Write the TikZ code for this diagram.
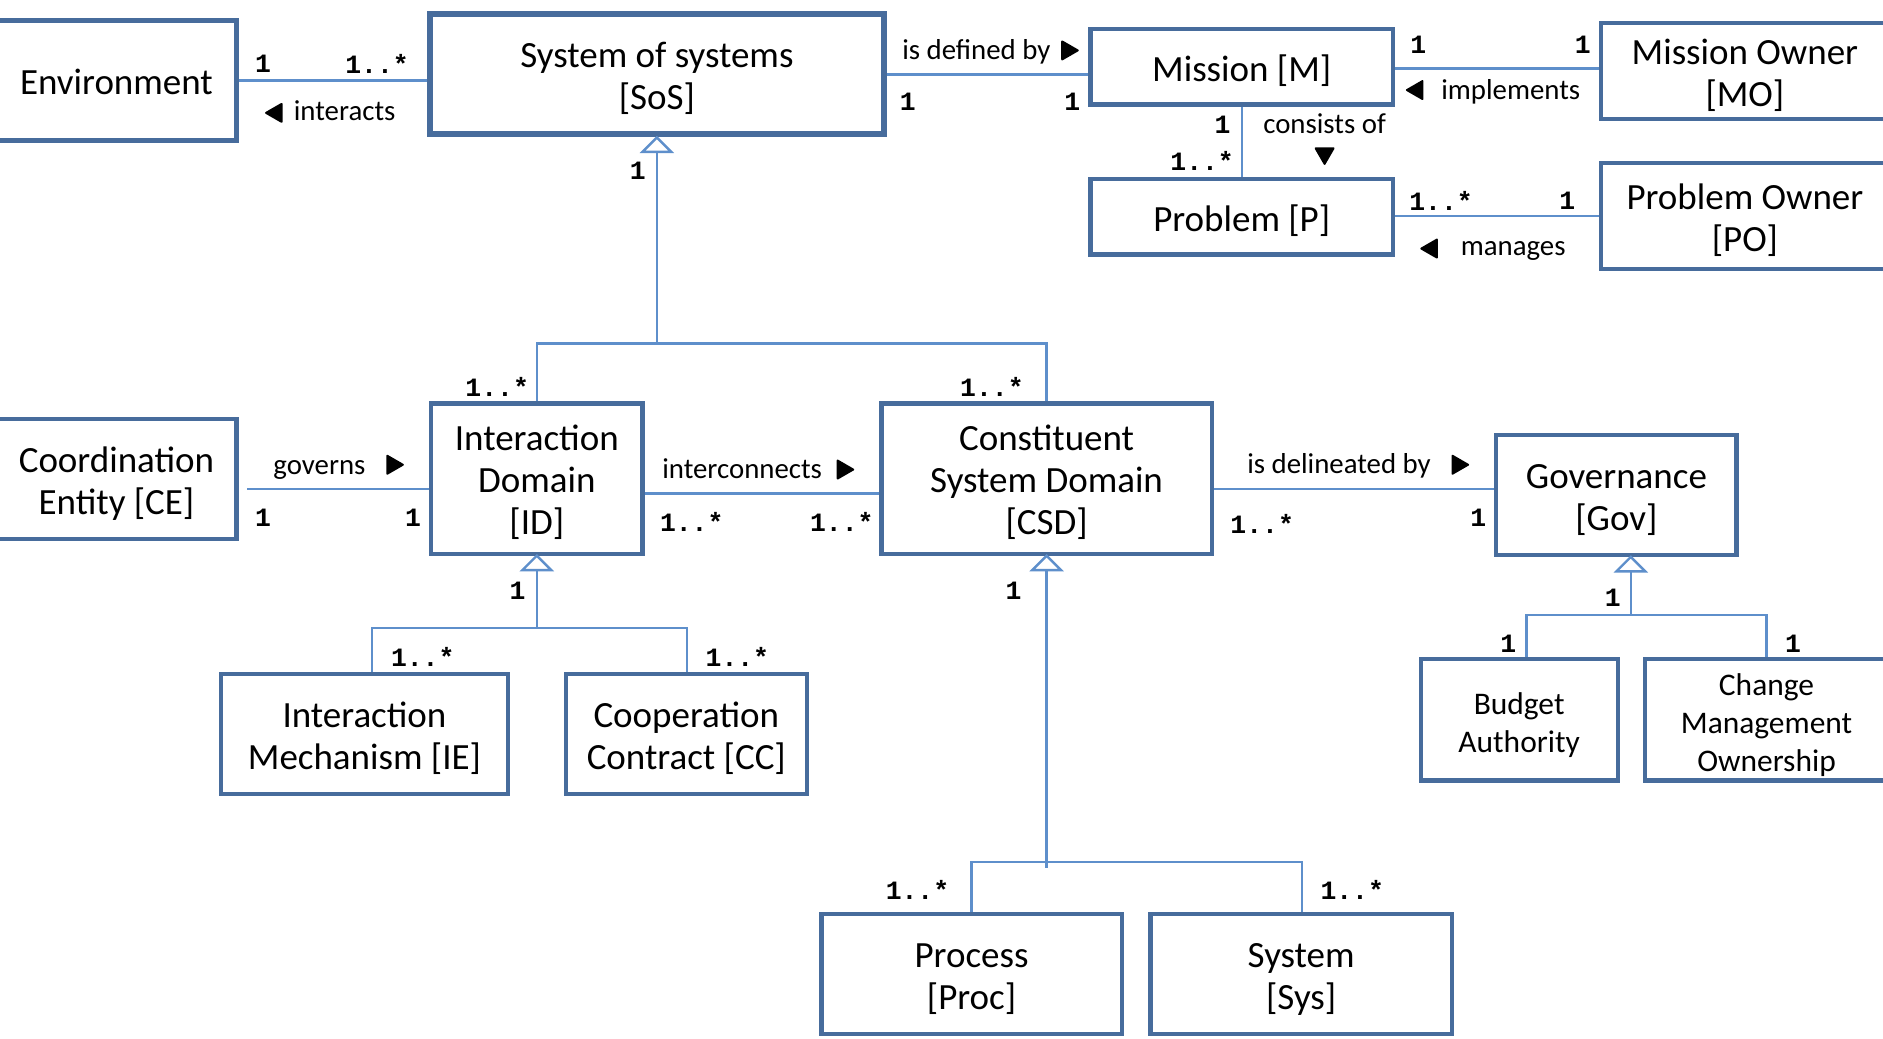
\documentclass[tikz,border=0pt]{standalone}
\usepackage{fontspec}
\setmainfont{Carlito}
\newfontfamily\multfont{Liberation Mono}
\definecolor{boxblue}{HTML}{476C9C}
\definecolor{linkblue}{HTML}{5E8FCB}
% centred class name block, set slightly below the optical centre
\newcommand\clsbox[1]{\raisebox{-2.5pt}[\height][\depth]{\begin{tabular}{@{}c@{}}#1\end{tabular}}}
\begin{document}
\begin{tikzpicture}[x=0.5pt, y=-0.5pt,
  box/.style={draw=boxblue, line width=1.75pt, fill=white, inner sep=0pt,
    font=\fontsize{15.4}{17.5}\selectfont},
  smallbox/.style={box, font=\fontsize{13.1}{15.75}\selectfont},
  sz/.style 2 args={minimum width={#1*0.5pt}, minimum height={#2*0.5pt}},
  link/.style={draw=linkblue, line width=1pt},
  gen/.style={link, fill=white},
  mult/.style={inner sep=0pt, font=\multfont\bfseries\fontsize{11}{13}\selectfont},
  rel/.style={inner sep=0pt, text height=8.5pt, text depth=0pt, font=\fontsize{12}{14}\selectfont},
  dirtri/.pic={\filldraw[line join=round, line width=0.8pt] (-5.5,-7.5) -- (7.5,0) -- (-5.5,7.5) -- cycle;},
]
\useasboundingbox (0,0) rectangle (1568,865);
\clip (0,0) rectangle (1568,865);

% ---- classes ----
\node[box, sz={200}{100}] (env) at (97,67) {\clsbox{Environment}};
\node[box, line width=2.5pt, sz={378}{100}] (sos) at (547,62) {\clsbox{System of systems\\{}[SoS]}};
\node[box, sz={252}{63}] (mis) at (1034,55.5) {\clsbox{Mission [M]}};
\node[box, sz={240}{80}] (mo) at (1453,59) {\clsbox{Mission Owner\\{}[MO]}};
\node[box, sz={252}{63}] (prob) at (1034,180.5) {\clsbox{Problem [P]}};
\node[box, sz={240}{88}] (po) at (1453,180) {\clsbox{Problem Owner\\{}[PO]}};
\node[box, sz={200}{100}] (ce) at (97,399) {\clsbox{Coordination\\Entity [CE]}};
\node[box, sz={176}{125}] (id) at (447,398.5) {\clsbox{Interaction\\Domain\\{}[ID]}};
\node[box, sz={275}{125}] (csd) at (871.5,398.5) {\clsbox{Constituent\\System Domain\\{}[CSD]}};
\node[box, sz={200}{100}] (gov) at (1346,412) {\clsbox{Governance\\{}[Gov]}};
\node[box, sz={239}{100}] (ie) at (303.5,611) {\clsbox{Interaction\\Mechanism [IE]}};
\node[box, sz={201}{100}] (cc) at (571.5,611) {\clsbox{Cooperation\\Contract [CC]}};
\node[smallbox, sz={164}{101}] (ba) at (1265,599.5) {\clsbox{Budget\\Authority}};
\node[smallbox, sz={202}{101}] (cmo) at (1471,599.5) {\clsbox{Change\\Management\\Ownership}};
\node[box, sz={250}{100}] (proc) at (809,811) {\clsbox{Process\\{}[Proc]}};
\node[box, sz={251}{100}] (sys) at (1083.5,811) {\clsbox{System\\{}[Sys]}};

% ---- associations ----
\draw[link] (env.east |- 0,67) -- (sos.west |- 0,67);
\draw[link] (sos.east |- 0,62) -- (mis.west |- 0,62);
\draw[link] (mis.east |- 0,57) -- (mo.west |- 0,57);
\draw[link] (mis.south) -- (prob.north);
\draw[link] (prob.east |- 0,180) -- (po.west |- 0,180);
\draw[link] (ce.east |- 0,407) ++(7,0) -- (id.west |- 0,407);
\draw[link] (id.east |- 0,411) -- (csd.west |- 0,411);
\draw[link] (csd.east |- 0,407) -- (gov.west |- 0,407);

% ---- generalizations ----
\coordinate (sosbar) at (547,286);
\draw[link] (sos.south) ++(0,12) -- (sosbar);
\draw[link] (id.north) |- (sosbar) -| (csd.north);
\draw[gen] (sos.south) -- ++(-12,12) -- ++(24,0) -- cycle;

\coordinate (idL) at (310,523);
\coordinate (idR) at (572,523);
\draw[link] (id.south) ++(0,12) -- (id.south |- idL);
\draw[link] (ie.north -| idL) -- (idL) -- (idR) -- (cc.north -| idR);
\draw[gen] (id.south) -- ++(-12,12) -- ++(24,0) -- cycle;

\coordinate (csdL) at (809,718);
\coordinate (csdR) at (1084,718);
\draw[link] (csd.south) ++(0,12) -- (csd.south |- 0,723);
\draw[link] (proc.north -| csdL) -- (csdL) -- (csdR) -- (sys.north -| csdR);
\draw[gen] (csd.south) -- ++(-12,12) -- ++(24,0) -- cycle;

\coordinate (govS) at (1358,512);
\coordinate (govL) at (1271,512);
\coordinate (govR) at (1471,512);
\draw[link] (gov.south -| govS) ++(0,12) -- (govS);
\draw[link] (ba.north -| govL) -- (govL) -- (govR) -- (cmo.north -| govR);
\draw[gen] (gov.south -| govS) -- ++(-12,12) -- ++(24,0) -- cycle;

% ---- association names ----
\node[rel] (l-interacts) at (287,92) {interacts};
\pic[rotate=180] at (229,94) {dirtri};
\node[rel] (l-defined) at (813,41) {is defined by};
\pic at (890,42) {dirtri};
\node[rel] (l-implements) at (1258,74) {implements};
\pic[rotate=180] at (1179,75) {dirtri};
\node[rel] (l-consists) at (1103,103) {consists of};
\pic[rotate=-90] at (1103,129) {dirtri};
\node[rel] (l-manages) at (1260,204) {manages};
\pic[rotate=180] at (1191,207) {dirtri};
\node[rel] (l-governs) at (266,387) {governs};
\pic at (328,387) {dirtri};
\node[rel] (l-interconnects) at (618,390) {interconnects};
\pic at (703,391) {dirtri};
\node[rel] (l-delineated) at (1115,386) {is delineated by};
\pic at (1215,387) {dirtri};

% ---- multiplicities ----
\node[mult] (m1) at (219,53) {1};
\node[mult] (m2) at (314,53) {1..*};
\node[mult] (m3) at (756,85) {1};
\node[mult] (m4) at (893,85) {1};
\node[mult] (m5) at (1181,37) {1};
\node[mult] (m6) at (1318,37) {1};
\node[mult] (m7) at (1018,104) {1};
\node[mult] (m8) at (1001,134) {1..*};
\node[mult] (m9) at (1200,167) {1..*};
\node[mult] (m10) at (1305,167) {1};
\node[mult] (m11) at (531,142) {1};
\node[mult] (m12) at (414,322) {1..*};
\node[mult] (m13) at (826,322) {1..*};
\node[mult] (m14) at (219,431) {1};
\node[mult] (m15) at (344,431) {1};
\node[mult] (m16) at (576,435) {1..*};
\node[mult] (m17) at (701,435) {1..*};
\node[mult] (m18) at (1051,436) {1..*};
\node[mult] (m19) at (1231,431) {1};
\node[mult] (m20) at (431,492) {1};
\node[mult] (m21) at (352,547) {1..*};
\node[mult] (m22) at (614,547) {1..*};
\node[mult] (m23) at (844,492) {1};
\node[mult] (m24) at (764,741) {1..*};
\node[mult] (m25) at (1126,741) {1..*};
\node[mult] (m26) at (1343,498) {1};
\node[mult] (m27) at (1256,536) {1};
\node[mult] (m28) at (1493,536) {1};
\end{tikzpicture}
\end{document}
